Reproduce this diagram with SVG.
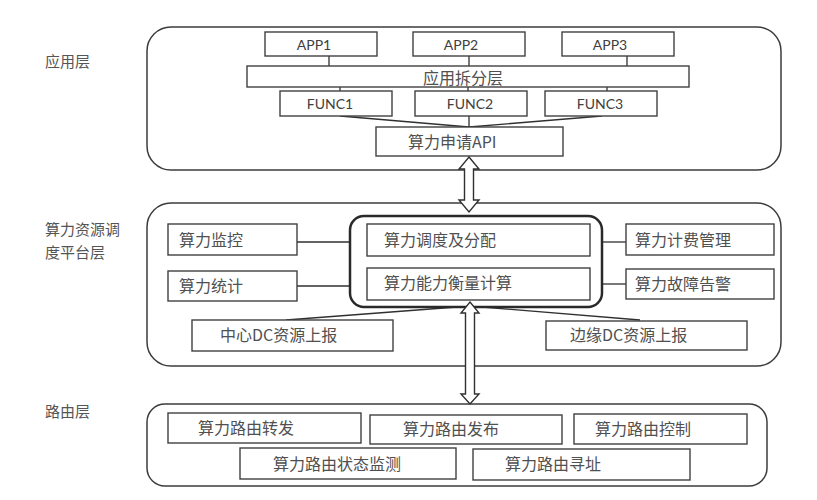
<svg xmlns="http://www.w3.org/2000/svg" width="817" height="500" viewBox="0 0 817 500">
<style>
.bg{fill:#ffffff}
.layer{fill:#ffffff;stroke:#3c3c3c;stroke-width:1.5}
.inner{fill:#ffffff;stroke:#2a2a2a;stroke-width:2.5}
.box{fill:#ffffff;stroke:#404040;stroke-width:1.4}
.ln{stroke:#303030;stroke-width:1.3;fill:none}
.arr{fill:#ffffff;stroke:#303030;stroke-width:1.4;stroke-linejoin:miter}
.cn{font-family:"Noto Sans CJK SC","Liberation Sans",sans-serif;font-size:16px;fill:#505050}
.side{font-family:"Noto Sans CJK SC","Liberation Sans",sans-serif;font-size:15px;fill:#555555}
.lat{font-family:"Lato","Liberation Sans",sans-serif;font-size:14px;fill:#404040;text-anchor:middle}
</style>
<rect class="bg" x="0" y="0" width="817" height="500"/>

<g id="labels">
<text class="side" x="45" y="67">应用层</text>
<text class="side" x="45" y="235">算力资源调</text>
<text class="side" x="45" y="258">度平台层</text>
<text class="side" x="45" y="417">路由层</text>
</g>

<g id="layer-app"><rect class="layer" x="147" y="27" width="634" height="143" rx="24"/></g>
<g id="layer-sched"><rect class="layer" x="147" y="203" width="634" height="163" rx="24"/></g>
<g id="layer-route"><rect class="layer" x="147" y="404" width="620" height="82" rx="18"/></g>

<g id="connectors">
<line class="ln" x1="329" y1="56" x2="329" y2="66"/>
<line class="ln" x1="469" y1="56" x2="469" y2="66"/>
<line class="ln" x1="627" y1="56" x2="627" y2="66"/>
<line class="ln" x1="340" y1="87" x2="340" y2="91"/>
<line class="ln" x1="468" y1="87" x2="468" y2="91"/>
<line class="ln" x1="607" y1="87" x2="607" y2="91"/>
<line class="ln" x1="340" y1="116" x2="469" y2="127"/>
<line class="ln" x1="469" y1="116" x2="469" y2="127"/>
<line class="ln" x1="602" y1="116" x2="469" y2="127"/>
<line class="ln" x1="297" y1="242" x2="350" y2="242"/>
<line class="ln" x1="297" y1="286" x2="350" y2="286"/>
<line class="ln" x1="602" y1="242" x2="626" y2="242"/>
<line class="ln" x1="602" y1="284" x2="626" y2="284"/>
<line class="ln" x1="286" y1="320" x2="470" y2="306"/>
<line class="ln" x1="640" y1="320" x2="470" y2="306"/>
</g>

<g id="app1"><rect class="box" x="265" y="32" width="112" height="24"/><text class="lat" x="314" y="50">APP1</text></g>
<g id="app2"><rect class="box" x="413" y="32" width="112" height="24"/><text class="lat" x="461" y="50">APP2</text></g>
<g id="app3"><rect class="box" x="562" y="32" width="112" height="24"/><text class="lat" x="610" y="50">APP3</text></g>
<g id="split"><rect class="box" x="247" y="66" width="442" height="21"/><text class="cn" x="423" y="84" fill="#606060">应用拆分层</text></g>
<g id="func1"><rect class="box" x="280" y="91" width="112" height="25"/><text class="lat" x="330" y="109">FUNC1</text></g>
<g id="func2"><rect class="box" x="415" y="91" width="112" height="25"/><text class="lat" x="470" y="109">FUNC2</text></g>
<g id="func3"><rect class="box" x="545" y="91" width="112" height="25"/><text class="lat" x="600" y="109">FUNC3</text></g>
<g id="api"><rect class="box" x="376" y="127" width="187" height="29"/><text class="cn" x="408" y="148">算力申请API</text></g>

<g id="core"><rect class="inner" x="350" y="216" width="252" height="91" rx="14"/></g>
<g id="sched"><rect class="box" x="367" y="224" width="223" height="32"/><text class="cn" x="384" y="246">算力调度及分配</text></g>
<g id="measure"><rect class="box" x="367" y="268" width="223" height="32"/><text class="cn" x="384" y="289">算力能力衡量计算</text></g>
<g id="monitor"><rect class="box" x="168" y="224" width="129" height="31"/><text class="cn" x="179" y="246">算力监控</text></g>
<g id="stats"><rect class="box" x="168" y="271" width="129" height="30"/><text class="cn" x="179" y="292">算力统计</text></g>
<g id="billing"><rect class="box" x="626" y="224" width="148" height="31"/><text class="cn" x="635" y="246">算力计费管理</text></g>
<g id="alarm"><rect class="box" x="626" y="269" width="148" height="30"/><text class="cn" x="635" y="290">算力故障告警</text></g>
<g id="center-dc"><rect class="box" x="192" y="320" width="201" height="31"/><text class="cn" x="220" y="341">中心DC资源上报</text></g>
<g id="edge-dc"><rect class="box" x="546" y="321" width="201" height="29"/><text class="cn" x="570" y="341">边缘DC资源上报</text></g>

<g id="r-forward"><rect class="box" x="168" y="413" width="193" height="30"/><text class="cn" x="198" y="434">算力路由转发</text></g>
<g id="r-publish"><rect class="box" x="370" y="415" width="192" height="29"/><text class="cn" x="403" y="435">算力路由发布</text></g>
<g id="r-control"><rect class="box" x="574" y="414" width="173" height="30"/><text class="cn" x="595" y="435">算力路由控制</text></g>
<g id="r-state"><rect class="box" x="240" y="448" width="216" height="31"/><text class="cn" x="273" y="470">算力路由状态监测</text></g>
<g id="r-addr"><rect class="box" x="473" y="449" width="217" height="31"/><text class="cn" x="505" y="470">算力路由寻址</text></g>

<g id="arrows">
<polygon class="arr" points="469,157 479,169 473.5,169 473.5,200 479,200 469,212 459,200 464.5,200 464.5,169 459,169"/>
<polygon class="arr" points="470,302 479,313 474.5,313 474.5,394 479,394 470,404 461,394 465.5,394 465.5,313 461,313"/>
</g>
</svg>
